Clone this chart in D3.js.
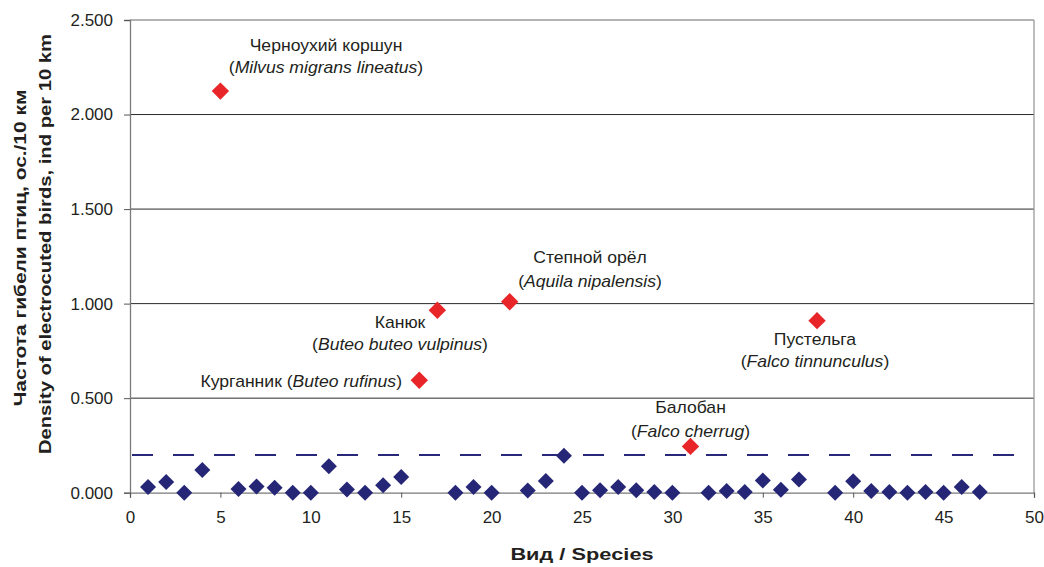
<!DOCTYPE html>
<html>
<head>
<meta charset="utf-8">
<script src="https://cdn.jsdelivr.net/npm/d3@7"></script>
<style>
  html, body { margin: 0; padding: 0; background: #fff; }
  svg { display: block; font-family: "Liberation Sans", Arial, sans-serif; }
</style>
</head>
<body>
<svg id="chart" width="1044" height="567"></svg>
<script>
// ---- Data ----
const speciesX = [1,2,3,4,6,7,8,9,10,11,12,13,14,15,18,19,20,22,23,24,25,26,27,28,29,30,32,33,34,35,36,37,39,40,41,42,43,44,45,46,47];
const densityVals = [0.03,0.056,0.0,0.12,0.02,0.033,0.026,0.0,0.0,0.14,0.017,0.0,0.039,0.083,0.0,0.03,0.0,0.012,0.062,0.196,0.0,0.013,0.03,0.013,0.004,0.0,0.0,0.009,0.004,0.065,0.016,0.07,0.0,0.06,0.009,0.004,0.0,0.004,0.0,0.03,0.004];
const highX = [5,16,17,21,31,38];
const highVals = [2.124,0.595,0.965,1.01,0.245,0.91];
const highNamesRu = ["Черноухий коршун","Курганник","Канюк","Степной орёл","Балобан","Пустельга"];
const highNamesLat = ["Milvus migrans lineatus","Buteo rufinus","Buteo buteo vulpinus","Aquila nipalensis","Falco cherrug","Falco tinnunculus"];
const threshold = 0.2;
const yTicks = [0,0.5,1.0,1.5,2.0,2.5];
const xTicks = [0,5,10,15,20,25,30,35,40,45,50];
const yTitle1 = "Частота гибели птиц, ос./10 км";
const yTitle2 = "Density of electrocuted birds, ind per 10 km";
const xTitle = "Вид / Species";

// ---- Layout ----
const svg = d3.select("#chart");
const L = 130, R = 1034, T = 20, B = 492.7;
const x = d3.scaleLinear().domain([0,50]).range([L,R]);
const y = d3.scaleLinear().domain([0,2.5]).range([B,T]);
const textCol = "#231f20";

// gridlines
svg.append("g").selectAll("line").data(yTicks.filter(v => v > 0 && v < 2.5)).join("line")
  .attr("x1", L).attr("x2", R).attr("y1", d => y(d)).attr("y2", d => y(d))
  .attr("stroke", "#2a2a2a").attr("stroke-width", 1);
// top & right border
svg.append("line").attr("x1", L).attr("x2", R).attr("y1", y(2.5)).attr("y2", y(2.5))
  .attr("stroke", "#9a9a9a").attr("stroke-width", 1.3);
svg.append("line").attr("x1", R).attr("x2", R).attr("y1", y(2.5)).attr("y2", B)
  .attr("stroke", "#9a9a9a").attr("stroke-width", 1.3);

// threshold dashed line
svg.append("line").attr("x1", x(0) + 2).attr("x2", R - 2).attr("y1", y(threshold)).attr("y2", y(threshold))
  .attr("stroke", "#28287a").attr("stroke-width", 2).attr("stroke-dasharray", "21,20");

// axes
const yAxis = d3.axisLeft(y).tickValues(yTicks).tickSize(6).tickPadding(11)
  .tickFormat(d3.format(".3f"));
const gy = svg.append("g").attr("transform", `translate(${L},0)`).call(yAxis);
gy.select(".domain").attr("stroke", "#7a7a7a").attr("stroke-width", 1.3);
gy.selectAll(".tick line").attr("stroke", "#555");
gy.selectAll(".tick text").attr("font-size", 17).attr("fill", textCol)
  .attr("font-family", "Liberation Sans, Arial, sans-serif");

const xAxis = d3.axisBottom(x).tickValues(xTicks).tickSize(5).tickPadding(13);
const gx = svg.append("g").attr("transform", `translate(0,${B})`).call(xAxis);
gx.select(".domain").attr("stroke", "#7a7a7a").attr("stroke-width", 1.3);
gx.selectAll(".tick line").attr("stroke", "#555");
gx.selectAll(".tick text").attr("font-size", 17).attr("fill", textCol)
  .attr("font-family", "Liberation Sans, Arial, sans-serif");

// diamonds
function diamond(s) { return `M0,${-s}L${s},0L0,${s}L${-s},0Z`; }
svg.append("g").selectAll("path").data(speciesX.map((d,i) => [d, densityVals[i]])).join("path")
  .attr("d", diamond(8))
  .attr("transform", d => `translate(${x(d[0])},${y(d[1])})`)
  .attr("fill", "#262676");
svg.append("g").selectAll("path").data(highX.map((d,i) => [d, highVals[i]])).join("path")
  .attr("d", diamond(8.7))
  .attr("transform", d => `translate(${x(d[0])},${y(d[1])})`)
  .attr("fill", "#e8262a");

// annotations
const ann = [
  {i:0, cx:326, b1:51, b2:73},
  {i:3, cx:590, b1:263, b2:286.5},
  {i:2, cx:400, b1:328, b2:350},
  {i:5, cx:815, b1:345, b2:366.5},
  {i:4, cx:690.5, b1:413, b2:436.5}
];
const fs = 16, sx = 1.1;
ann.forEach(a => {
  svg.append("text").attr("transform", `translate(${a.cx},${a.b1}) scale(${sx},1)`).attr("text-anchor", "middle")
    .attr("font-size", fs).attr("fill", textCol).text(highNamesRu[a.i]);
  const t = svg.append("text").attr("transform", `translate(${a.cx},${a.b2}) scale(${sx},1)`).attr("text-anchor", "middle")
    .attr("font-size", fs).attr("fill", textCol);
  t.append("tspan").text("(");
  t.append("tspan").attr("font-style", "italic").text(highNamesLat[a.i]);
  t.append("tspan").text(")");
});
{
  const t = svg.append("text").attr("transform", `translate(402,386.5) scale(${sx},1)`).attr("text-anchor", "end")
    .attr("font-size", fs).attr("fill", textCol);
  t.append("tspan").text(highNamesRu[1] + " (");
  t.append("tspan").attr("font-style", "italic").text(highNamesLat[1]);
  t.append("tspan").text(")");
}

// axis titles
svg.append("text").attr("transform", "translate(26,248) rotate(-90) scale(1.23,1)").attr("text-anchor", "middle")
  .attr("font-size", 17).attr("font-weight", "bold").attr("fill", textCol).text(yTitle1);
svg.append("text").attr("transform", "translate(51,244) rotate(-90) scale(1.19,1)").attr("text-anchor", "middle")
  .attr("font-size", 17).attr("font-weight", "bold").attr("fill", textCol).text(yTitle2);
svg.append("text").attr("transform", "translate(582,560) scale(1.28,1)").attr("text-anchor", "middle")
  .attr("font-size", 17).attr("font-weight", "bold").attr("fill", textCol).text(xTitle);
</script>
</body>
</html>
